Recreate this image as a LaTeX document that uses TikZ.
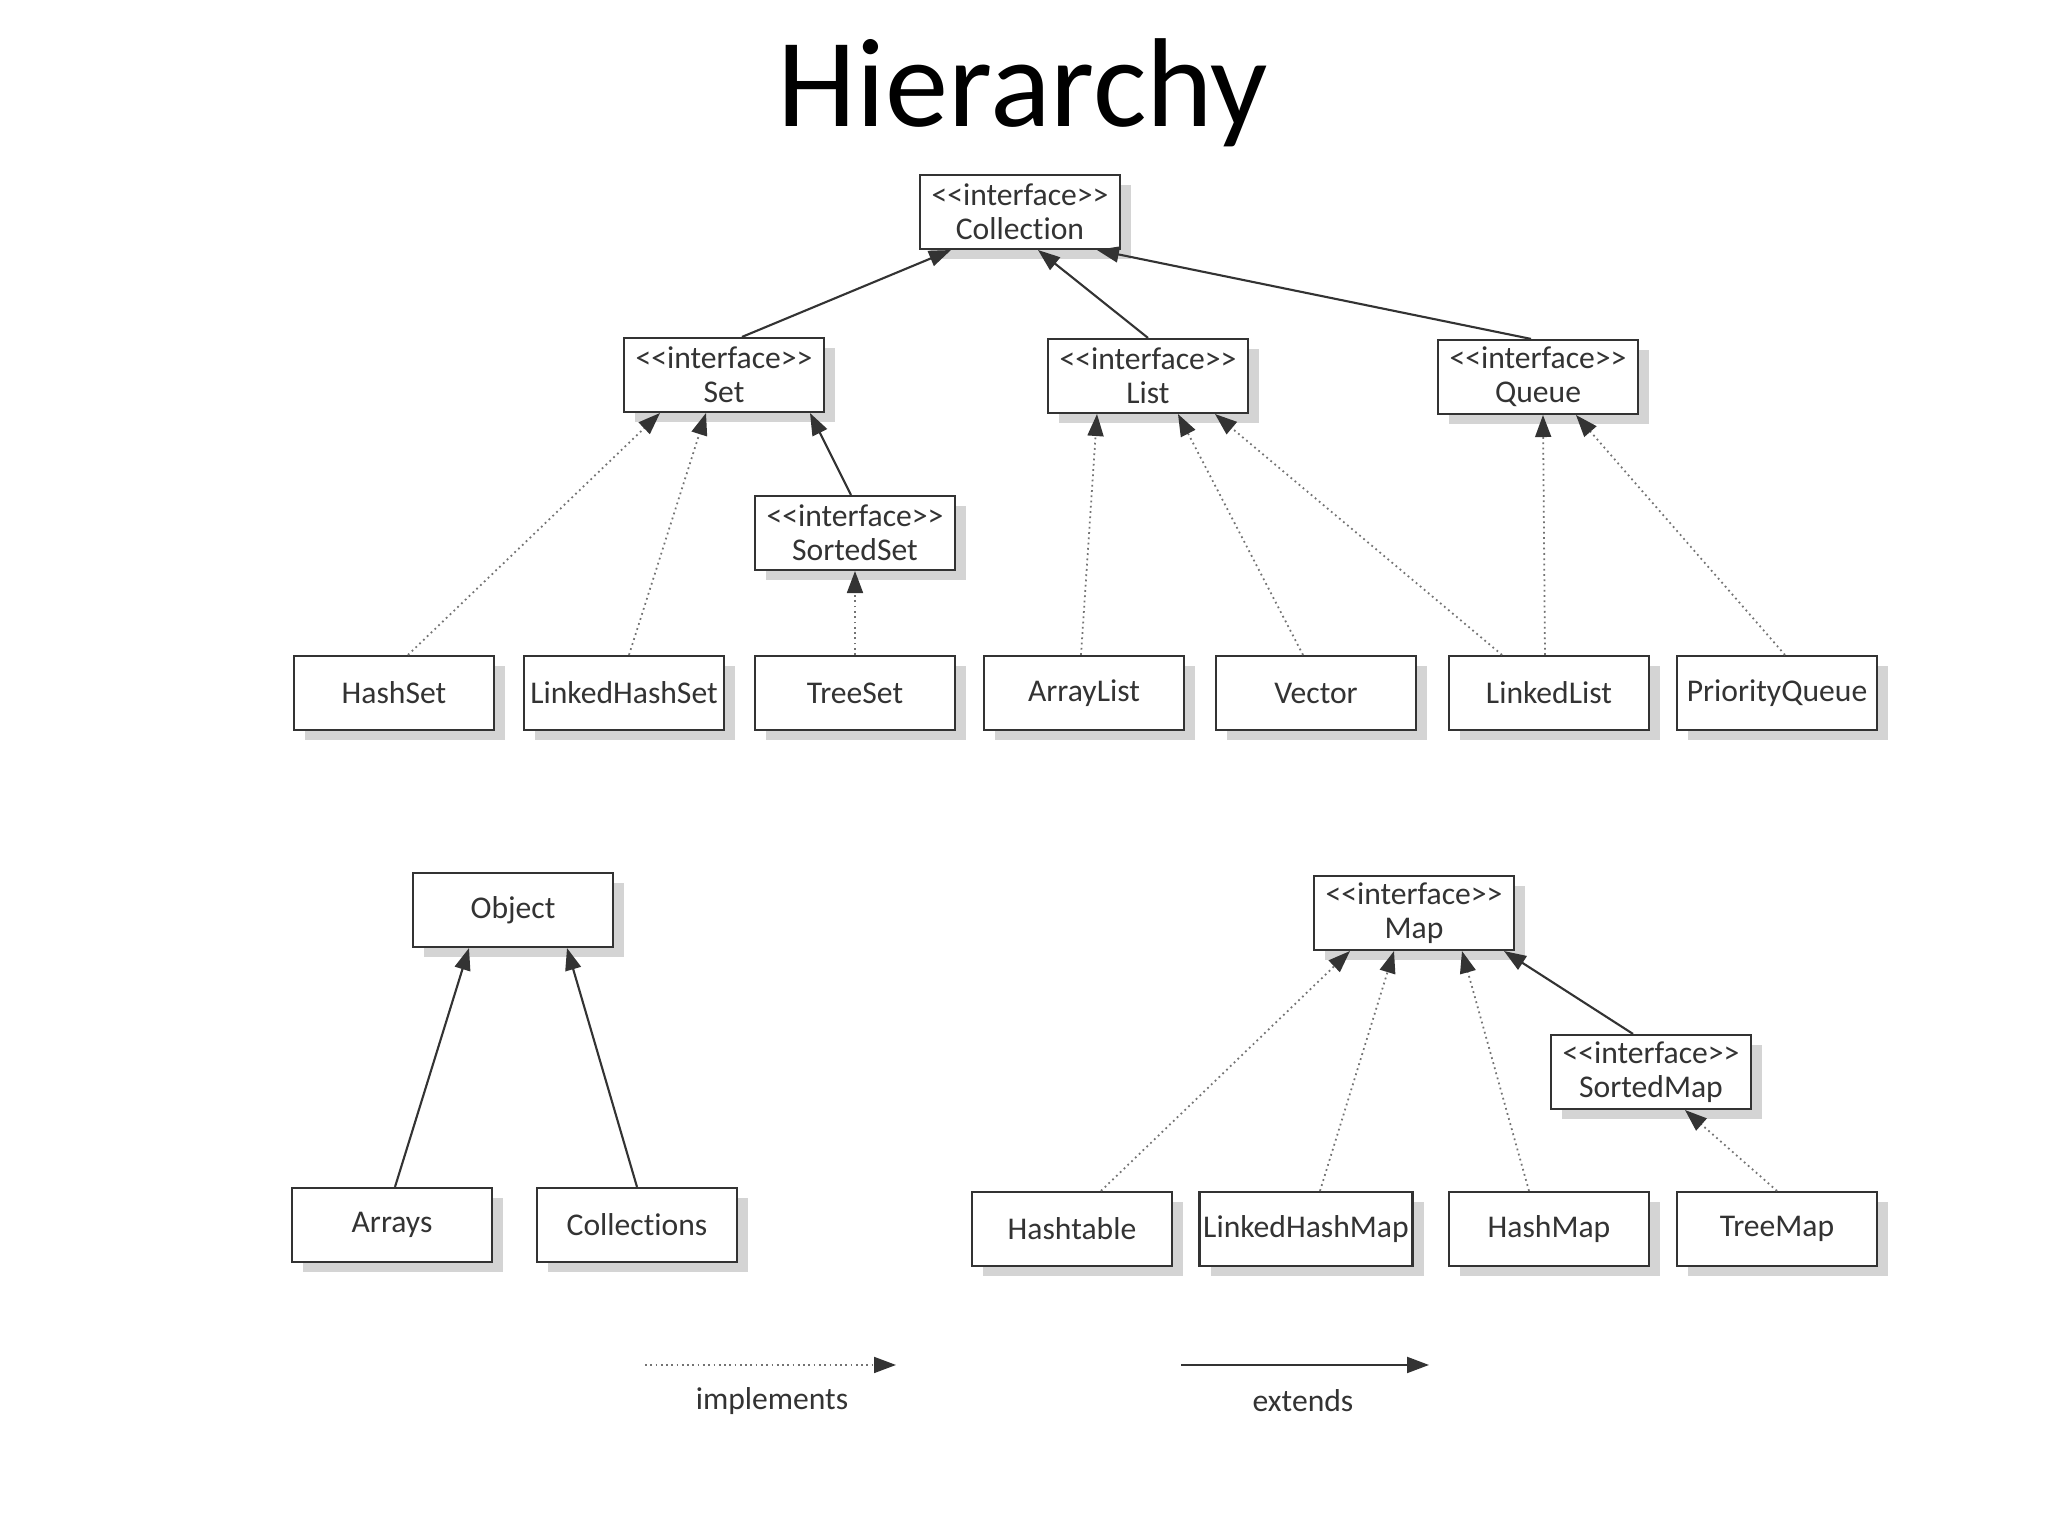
\documentclass[tikz,border=0pt]{standalone}
\usepackage{fontspec}
\setmainfont{Carlito}[Ligatures={TeXOff,NoCommon}]
\usetikzlibrary{arrows.meta,shadows}

\begin{document}
\begin{tikzpicture}[
        box/.style={draw=black!80, line width=0.6pt, fill=white, text=black!80,
            minimum width=2cm, minimum height=0.74cm, inner sep=1pt, align=center,
            font=\fontsize{9}{9.6}\selectfont,
            general shadow={fill=black!17, shadow xshift=0.11cm, shadow yshift=-0.10cm}},
        tip/.style={-{Triangle[length=0.22cm,width=0.16cm,color=black!80]}},
        extends/.style={tip, draw=black!80, line width=0.6pt},
        implements/.style={tip, draw=black!55, line width=0.5pt, densely dotted}
    ]
        \fill[white] (0,0) rectangle (20.48,15.36);
        \useasboundingbox (0,0) rectangle (20.48,15.36);

        \node[anchor=base, font=\fontsize{36}{40}\selectfont] (title) at (10.23,14.09) {Hierarchy};

        \node[box] (Collection) at (10.20,13.24) {<<interface>>\\Collection};
        \node[box] (Set) at (7.24,11.61) {<<interface>>\\Set};
        \node[box] (List) at (11.48,11.60) {<<interface>>\\List};
        \node[box] (Queue) at (15.38,11.59) {<<interface>>\\Queue};
        \node[box] (SortedSet) at (8.55,10.03) {<<interface>>\\SortedSet};
        \foreach \name/\x in {HashSet/3.94,LinkedHashSet/6.24,TreeSet/8.55,ArrayList/10.84,
                Vector/13.16,LinkedList/15.49,PriorityQueue/17.77} {
            \node[box] (\name) at (\x,8.43) {\name};
        }

        \node[box] (Object) at (5.13,6.26) {Object};
        \node[box] (Arrays) at (3.92,3.11) {Arrays};
        \node[box] (Collections) at (6.37,3.11) {Collections};

        \node[box] (Map) at (14.14,6.23) {<<interface>>\\Map};
        \node[box] (SortedMap) at (16.51,4.64) {<<interface>>\\SortedMap};
        \node[box] (Hashtable) at (10.72,3.07) {Hashtable};
        \node[box, minimum width=2.13cm] (LinkedHashMap) at (13.06,3.07) {LinkedHashMap};
        \node[box] (HashMap) at (15.49,3.07) {HashMap};
        \node[box] (TreeMap) at (17.77,3.07) {TreeMap};

        \draw[extends] ([xshift=0.18cm]Set.north) -- ([xshift=-0.69cm]Collection.south);
        \draw[extends] (List.north) -- ([xshift=0.18cm]Collection.south);
        \draw[extends] ([xshift=-0.07cm]Queue.north) -- ([xshift=0.77cm]Collection.south);
        \draw[extends] ([xshift=-0.04cm]SortedSet.north) -- ([xshift=0.86cm]Set.south);
        \draw[extends] ([xshift=-0.18cm]SortedMap.north) -- ([xshift=0.90cm]Map.south);
        \draw[extends] ([xshift=0.03cm]Arrays.north) -- ([xshift=-0.44cm]Object.south);
        \draw[extends] (Collections.north) -- ([xshift=0.54cm]Object.south);

        \draw[implements] ([xshift=0.14cm]HashSet.north) -- ([xshift=-0.64cm]Set.south);
        \draw[implements] ([xshift=0.05cm]LinkedHashSet.north) -- ([xshift=-0.18cm]Set.south);
        \draw[implements] (TreeSet.north) -- (SortedSet.south);
        \draw[implements] ([xshift=-0.03cm]ArrayList.north) -- ([xshift=-0.51cm]List.south);
        \draw[implements] ([xshift=-0.13cm]Vector.north) -- ([xshift=0.30cm]List.south);
        \draw[implements] ([xshift=-0.47cm]LinkedList.north) -- ([xshift=0.67cm]List.south);
        \draw[implements] ([xshift=-0.04cm]LinkedList.north) -- ([xshift=0.05cm]Queue.south);
        \draw[implements] ([xshift=0.08cm]PriorityQueue.north) -- ([xshift=0.38cm]Queue.south);
        \draw[implements] ([xshift=0.29cm]Hashtable.north) -- ([xshift=-0.64cm]Map.south);
        \draw[implements] ([xshift=0.14cm]LinkedHashMap.north) -- ([xshift=-0.20cm]Map.south);
        \draw[implements] ([xshift=-0.20cm]HashMap.north) -- ([xshift=0.48cm]Map.south);
        \draw[implements] (TreeMap.north) -- ([xshift=0.34cm]SortedMap.south);

        \coordinate (implFrom) at (6.45,1.71);
        \coordinate (implTo) at (8.96,1.71);
        \draw[implements] (implFrom) -- (implTo);
        \node[text=black!80, font=\fontsize{9}{9.6}\selectfont] (implLabel) at (7.72,1.35) {implements};

        \coordinate (extFrom) at (11.81,1.71);
        \coordinate (extTo) at (14.29,1.71);
        \draw[extends] (extFrom) -- (extTo);
        \node[text=black!80, font=\fontsize{9}{9.6}\selectfont] (extLabel) at (13.03,1.35) {extends};
    \end{tikzpicture}
\end{document}
